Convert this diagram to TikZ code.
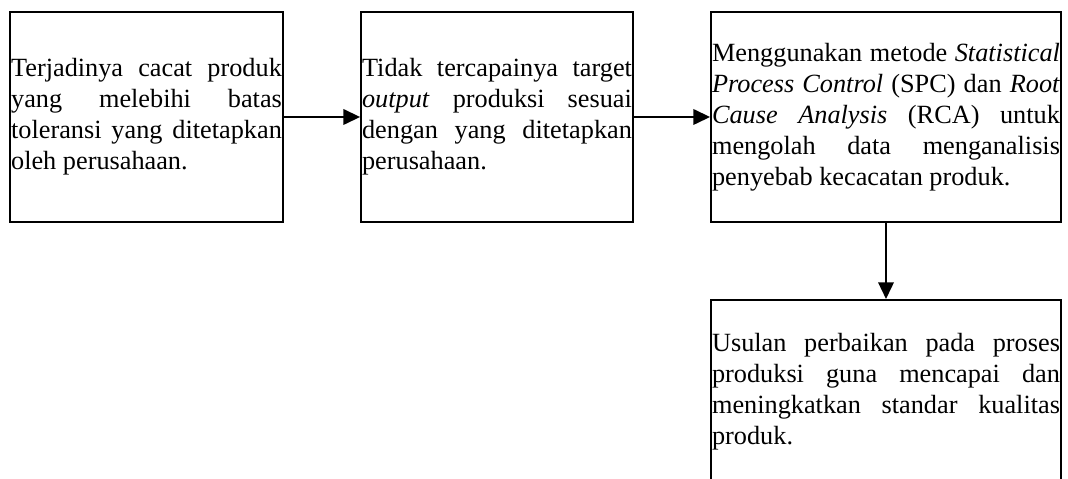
\documentclass[tikz,border=0pt]{standalone}
\usepackage{fontspec}
\setmainfont{Liberation Serif}
\usetikzlibrary{arrows.meta}

\newcommand{\baris}[1]{\makebox[\hsize][s]{#1}}

\begin{document}
\begin{tikzpicture}[x=0.451pt,y=-0.451pt,
	kotak/.style={draw=black,line width=0.8pt,inner xsep=0.5pt,inner ysep=0pt,
		minimum height=94.7pt,align=justify,font=\fontsize{11.85}{14}\selectfont},
	panah/.style={-{Triangle[length=7.5pt,width=7pt]},line width=0.8pt}]
	\clip (0,0) rectangle (1068,479);

	\node[kotak,minimum width=123.1pt,text width=122.1pt] (masalah) at (146.5,117)
		{\baris{Terjadinya cacat produk}\\ \baris{yang melebihi batas}\\
		\baris{toleransi yang ditetapkan}\\ oleh perusahaan.};
	\node[kotak,minimum width=122.7pt,text width=121.7pt] (dampak) at (497,117)
		{\baris{Tidak tercapainya target}\\ \baris{\emph{output} produksi sesuai}\\
		\baris{dengan yang ditetapkan}\\ perusahaan.};
	\node[kotak,minimum width=157.9pt,text width=156.9pt] (metode) at (886,117)
		{\baris{Menggunakan metode \emph{Statistical}}\\
		\baris{\emph{Process Control} (SPC) dan \emph{Root}}\\
		\baris{\emph{Cause Analysis} (RCA) untuk}\\ \baris{mengolah data menganalisis}\\
		penyebab kecacatan produk.};
	\node[kotak,anchor=north,minimum width=157.9pt,text width=156.9pt,minimum height=82.5pt] (usulan) at (886,299)
		{\baris{Usulan perbaikan pada proses}\\ \baris{produksi guna mencapai dan}\\
		\baris{meningkatkan standar kualitas}\\ produk.};

	\path[panah] (masalah) edge (dampak);
	\path[panah] (dampak) edge (metode);
	\path[panah] (metode) edge (usulan);
\end{tikzpicture}
\end{document}
